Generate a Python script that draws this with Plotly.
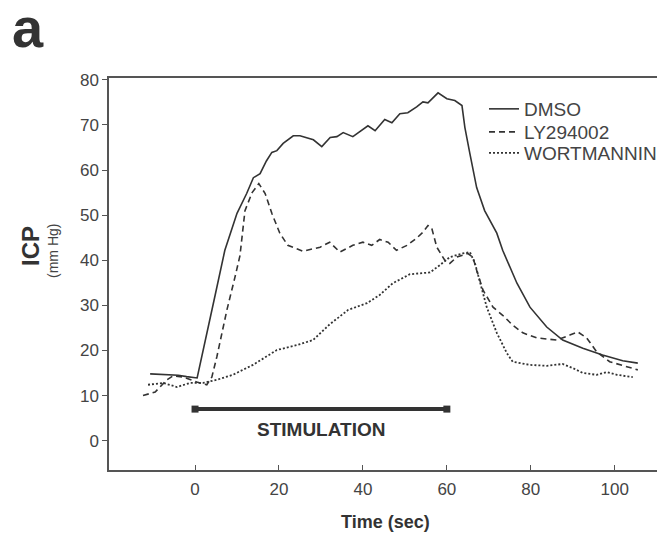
import plotly.graph_objects as go

# ICP traces (time in s, pressure in mm Hg)
dmso_t = [-10.7, -7, -4, -2, 0.5, 4.8, 7.1, 10, 12.3, 13.9, 15.5, 17, 18.3, 19.5, 21,
          23.4, 25, 28.2, 30.2, 32.2, 33.8, 35.3, 37.6, 41.2, 42.9, 45.2, 46.9, 48.8,
          50.7, 52.8, 54.3, 55.5, 57.9, 60, 61.9, 63.6, 64.3, 65.5, 67.1, 69, 71.9,
          73.3, 76.7, 79.8, 83.8, 87.6, 92.4, 97.1, 101.9, 105.5]
dmso_v = [14.8, 14.7, 14.5, 14.2, 13.9, 32.3, 42.2, 50.4, 54.8, 58.3, 59.2, 62, 63.9,
          64.3, 65.9, 67.6, 67.6, 66.7, 65.2, 67.2, 67.4, 68.3, 67.4, 69.8, 68.7, 71.2,
          70.5, 72.5, 72.7, 74, 75.1, 74.9, 77.1, 75.8, 75.4, 74.3, 69.4, 63.6, 56.1,
          51, 46, 42.2, 34.9, 29.6, 25.2, 22.3, 20.5, 19, 17.7, 17.2]

ly_t = [-12.4, -9.5, -6.7, -5.2, -2.8, 0.4, 2.8, 4, 5.2, 7.6, 9.5, 10.7, 11.9, 13.6,
        15.2, 16.7, 18.3, 20.2, 22.1, 25.7, 29.8, 32.1, 34.5, 37.6, 40, 42.1, 44, 46,
        48, 50.5, 52.8, 54.3, 55.5, 56.4, 57.6, 59.5, 60.7, 62.4, 65, 66.2, 67.1, 68.6,
        71, 73.3, 75.7, 78.1, 81.4, 86.2, 89.3, 91.2, 93.3, 95.7, 98.8, 101.9, 105.5]
ly_v = [10, 10.8, 13.5, 14.4, 14.1, 13, 12.4, 14.1, 18.6, 29, 36.2, 41, 51, 55, 57,
        54.8, 50.4, 46, 43.3, 42, 42.9, 44, 41.8, 43.3, 44, 43.3, 44.6, 44, 42.2, 43.3,
        44.9, 46.2, 47.7, 47.1, 42.9, 40, 39.3, 40.7, 41.5, 40.7, 37.8, 33.4, 29.6,
        27.8, 25.6, 23.9, 22.8, 22.3, 23.4, 24.1, 22.8, 19.7, 17.5, 16.6, 15.7]

wort_t = [-11.2, -7.6, -4.3, -1.2, 1.9, 5.2, 9, 13.8, 19.5, 24.3, 28.1, 32.1, 36.5, 41,
          44, 47.1, 51.2, 56, 58.3, 60.7, 63.8, 65.5, 66.7, 67.9, 69.5, 71.9, 74.3,
          75.7, 79.8, 83.8, 87.6, 90, 92.4, 95.7, 98.1, 100.5, 104.3]
wort_v = [12.4, 12.8, 11.9, 12.8, 12.8, 13.5, 14.6, 16.8, 20.1, 21.2, 22.3, 25.8, 29,
          30.5, 32.3, 34.9, 36.9, 37.3, 38.9, 40.7, 41.5, 41.8, 39.3, 34.9, 29.6, 23.9,
          19.4, 17.5, 16.8, 16.6, 17, 16.1, 15, 14.6, 15.2, 14.6, 14.1]

stim_t = [0, 60]
stim_v = [7, 7]

x_ticks = [0, 20, 40, 60, 80, 100]
y_ticks = [0, 10, 20, 30, 40, 50, 60, 70, 80]

FONT = "Liberation Sans, Arial, sans-serif"
INK = "#333333"

# the page body adds 8px around the figure, so the figure is 8px smaller
W, H = 657, 530
L, R, T, B = 101, 2, 70, 68
pw, ph = W - L - R, H - T - B


def px(x, y):
    """pixel position in the figure -> paper coords"""
    return (x - L) / pw, (H - B - y) / ph


fig = go.Figure()
fig.add_trace(go.Scatter(x=dmso_t, y=dmso_v, name="DMSO", mode="lines", legend="legend",
                         line=dict(color=INK, width=1.6)))
fig.add_trace(go.Scatter(x=ly_t, y=ly_v, name="LY294002", mode="lines", legend="legend2",
                         line=dict(color=INK, width=1.6, dash="6px,4px")))
fig.add_trace(go.Scatter(x=wort_t, y=wort_v, name="WORTMANNIN", mode="lines",
                         legend="legend3",
                         line=dict(color=INK, width=1.8, dash="2px,2px")))
fig.add_trace(go.Scatter(x=stim_t, y=stim_v, mode="lines+markers", showlegend=False,
                         line=dict(color=INK, width=4),
                         marker=dict(symbol="square", size=7, color=INK)))

fig.add_annotation(x=30, y=7, xref="x", yref="y", yshift=-20, text="<b>STIMULATION</b>",
                   showarrow=False, font=dict(size=19, color=INK, family=FONT))

labels = [
    ("<b>a</b>", 20, 19, 0, 56, INK),
    ("<b>ICP</b>", 22, 238, -90, 24, INK),
    ("(mm Hg)", 45, 243, -90, 14, "#444444"),
    ("<b>Time (sec)</b>", 377, 514, 0, 18, INK),
]
for text, x, y, ang, size, col in labels:
    ax, ay = px(x, y)
    fig.add_annotation(x=ax, y=ay, xref="paper", yref="paper", text=text,
                       xanchor="center", yanchor="middle", textangle=ang,
                       showarrow=False, font=dict(size=size, color=col, family=FONT))


def legend_at(row_y):
    lx, ly = px(476, row_y)
    return dict(x=lx, y=ly, xanchor="left", yanchor="middle", itemwidth=30,
                bgcolor="rgba(0,0,0,0)", font=dict(size=19, color="#444444"))


fig.update_layout(
    width=W, height=H,
    template="plotly_white",
    paper_bgcolor="white", plot_bgcolor="white",
    margin=dict(l=L, r=R, t=T, b=B),
    font=dict(family=FONT, color="#444444", size=17),
    showlegend=True,
    legend=legend_at(101),
    legend2=legend_at(124),
    legend3=legend_at(145),
    xaxis=dict(range=[-20.5, 111.5], tickvals=x_ticks, ticks="inside", ticklen=5,
               showline=True, mirror=True, linecolor="#555555", linewidth=1.5,
               tickcolor="#555555", showgrid=False, zeroline=False,
               ticklabelstandoff=3, automargin=False),
    yaxis=dict(range=[-6.5, 80.4], tickvals=y_ticks, ticks="outside", ticklen=5,
               showline=True, mirror=True, linecolor="#555555", linewidth=1.5,
               tickcolor="#555555", showgrid=False, zeroline=False,
               automargin=False),
)

fig.write_html("out.html")
